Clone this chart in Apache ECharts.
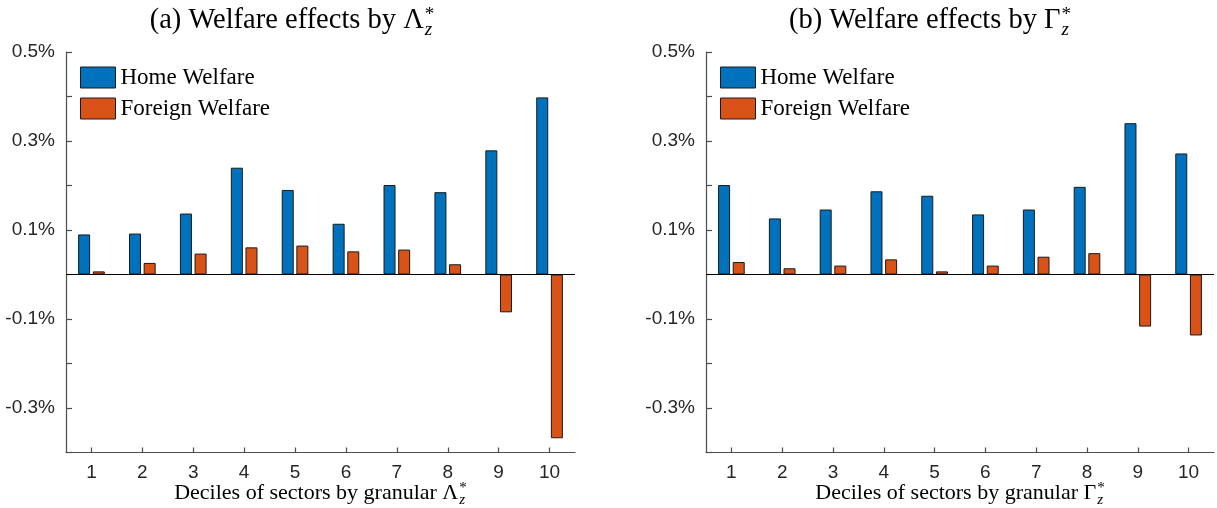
<!DOCTYPE html>
<html>
<head>
<meta charset="utf-8">
<script src="https://cdn.jsdelivr.net/npm/echarts@6/dist/echarts.min.js"></script>
<style>
html,body{margin:0;padding:0;background:#fff;}
#chart{width:1217px;height:508px;}
</style>
</head>
<body>
<div id="chart"></div>
<script>
// ---- data (values in percent) ----
const deciles = ['1','2','3','4','5','6','7','8','9','10'];
const homeA    = [0.090, 0.092, 0.137, 0.240, 0.190, 0.114, 0.201, 0.185, 0.279, 0.398];
const foreignA = [0.007, 0.026, 0.047, 0.061, 0.065, 0.052, 0.056, 0.023, -0.085, -0.368];
const homeB    = [0.201, 0.126, 0.146, 0.187, 0.177, 0.135, 0.146, 0.197, 0.340, 0.272];
const foreignB = [0.028, 0.014, 0.020, 0.034, 0.007, 0.020, 0.040, 0.048, -0.117, -0.137];
const yMin = -0.4, yMax = 0.5, yStep = 0.1;
const seriesNames = ['Home Welfare', 'Foreign Welfare'];
const titleA = '(a) Welfare effects by ', symA = '\u039B';
const titleB = '(b) Welfare effects by ', symB = '\u0393';
const xNamePrefix = 'Deciles of sectors by granular ';

const SERIF = '"Liberation Serif", "Times New Roman", serif';
const SANS = '"Liberation Sans", Arial, sans-serif';
const BLUE = '#0072BD', ORANGE = '#D95319', EDGE = '#1a1a1a', AXIS = '#4d4d4d';

const ctx = document.createElement('canvas').getContext('2d');
function tw(text, font){ ctx.font = font; return ctx.measureText(text).width; }

function mathText(prefix, sym, size, cx, cy){
  const f = size + 'px ' + SERIF;
  const small = Math.round(size * 0.66);
  const fs = small + 'px ' + SERIF;
  const fz = 'italic ' + small + 'px ' + SERIF;
  const w1 = tw(prefix + sym, f);
  const ws = Math.max(tw('*', fs), tw('z', fz));
  const x0 = cx - (w1 + ws + 1) / 2;
  const mk = (text, font, x, y) => ({
    type: 'text', x: x, y: y, silent: true,
    style: {text: text, font: font, fill: '#000', align: 'left', verticalAlign: 'middle',
            textAlign: 'left', textVerticalAlign: 'middle'}
  });
  return [
    mk(prefix + sym, f, x0, cy),
    mk('*', fs, x0 + w1 + 1, cy - size * 0.22),
    mk('z', fz, x0 + w1 + 1, cy + size * 0.32)
  ];
}

const gridA = {left: 66, top: 52, width: 509, height: 400.5};
const gridB = {left: 706, top: 52, width: 508, height: 400.5};

function yAxisFor(i){
  return {
    type: 'value', gridIndex: i, min: yMin, max: yMax, interval: yStep,
    axisLine: {show: true, lineStyle: {color: AXIS, width: 1.2}},
    axisTick: {show: true, inside: true, length: 6, lineStyle: {color: AXIS, width: 1.2}},
    splitLine: {show: false},
    axisLabel: {
      margin: 11, fontFamily: SANS, fontSize: 19, color: '#262626',
      formatter: v => { const k = Math.round(v * 10); return (Math.abs(k) % 2 === 1) ? (k / 10).toFixed(1) + '%' : ''; }
    }
  };
}
function xAxisFor(i){
  return {
    type: 'category', gridIndex: i, data: deciles,
    axisLine: {show: true, onZero: false, lineStyle: {color: AXIS, width: 1.2}},
    axisTick: {show: true, inside: true, alignWithLabel: true, length: 5, lineStyle: {color: AXIS, width: 1.2}},
    axisLabel: {margin: 11, fontFamily: SANS, fontSize: 19, color: '#262626'},
    splitLine: {show: false}
  };
}
function barSeries(name, color, data, idx, withZero){
  const s = {
    name: name, type: 'bar', xAxisIndex: idx, yAxisIndex: idx, data: data,
    barWidth: 12, barGap: '22%',
    itemStyle: {color: color, borderColor: EDGE, borderWidth: 1},
    emphasis: {disabled: true}, animation: false
  };
  if (withZero) {
    s.markLine = {
      silent: true, symbol: 'none', label: {show: false},
      lineStyle: {color: '#000', width: 1, type: 'solid'},
      data: [{yAxis: 0}], animation: false
    };
  }
  return s;
}
function legendFor(left){
  return {
    data: seriesNames, orient: 'vertical', left: left - 5, top: 61,
    itemWidth: 35, itemHeight: 21, itemGap: 8,
    icon: 'rect',
    itemStyle: {borderColor: EDGE, borderWidth: 1},
    textStyle: {fontFamily: SERIF, fontSize: 23, color: '#000'},
    selectedMode: false
  };
}

const chart = echarts.init(document.getElementById('chart'), null, {renderer: 'canvas'});
const cxA = gridA.left + gridA.width / 2, cxB = gridB.left + gridB.width / 2;
chart.setOption({
  backgroundColor: '#fff',
  animation: false,
  grid: [gridA, gridB],
  xAxis: [xAxisFor(0), xAxisFor(1)],
  yAxis: [yAxisFor(0), yAxisFor(1)],
  legend: [legendFor(80), legendFor(720)],
  series: [
    barSeries(seriesNames[0], BLUE, homeA, 0, true),
    barSeries(seriesNames[1], ORANGE, foreignA, 0, false),
    barSeries(seriesNames[0], BLUE, homeB, 1, true),
    barSeries(seriesNames[1], ORANGE, foreignB, 1, false)
  ],
  graphic: [].concat(
    mathText(titleA, symA, 28.5, 292, 21),
    mathText(titleB, symB, 28.5, 930, 21),
    mathText(xNamePrefix, symA, 22, cxA, 493),
    mathText(xNamePrefix, symB, 22, cxB, 493)
  )
});
</script>
</body>
</html>
